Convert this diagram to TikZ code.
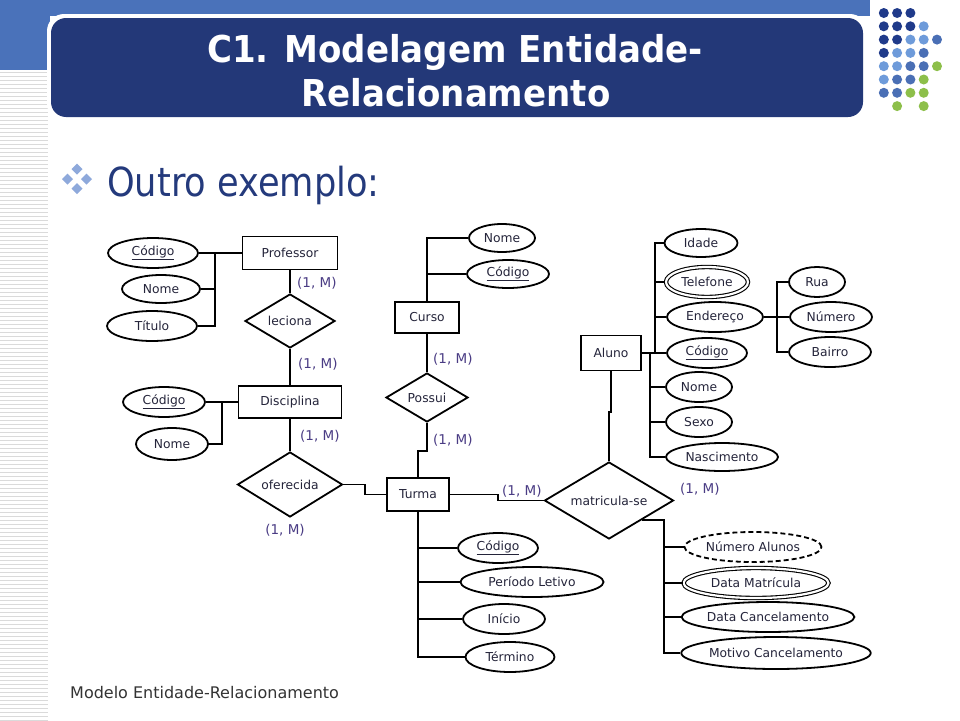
\documentclass[tikz,border=0pt]{standalone}
\usepackage{fontspec}
\setmainfont{DejaVu Sans}
\usetikzlibrary{shapes.geometric}
\definecolor{topblue}{HTML}{4A72BA}
\definecolor{navy}{HTML}{233878}
\definecolor{dotdark}{HTML}{1F3A8A}
\definecolor{dotlight}{HTML}{6E9BDA}
\definecolor{dotmid}{HTML}{4A6FB5}
\definecolor{dotgreen}{HTML}{8DBF4A}
\definecolor{subblue}{HTML}{243A7C}
\definecolor{bulletblue}{HTML}{8EA9DB}
\definecolor{lbl}{HTML}{4A3C84}
\definecolor{ertext}{HTML}{24243A}
\definecolor{footgray}{HTML}{333333}
\definecolor{stripegray}{HTML}{DADADA}
\newcommand\erfont{\fontsize{12.3}{14}\selectfont}
\newcommand\lblfont{\fontsize{13.5}{15}\selectfont}
\begin{document}
\begin{tikzpicture}[x=1pt,y=-1pt,
  ent/.style={draw, line width=1.8pt, rectangle, inner sep=0, font=\erfont, text=ertext},
  attr/.style={draw, line width=1.8pt, ellipse, inner sep=0, font=\erfont, text=ertext},
  rel/.style={draw, line width=1.8pt, diamond, inner sep=0, font=\erfont, text=ertext},
  dbl/.style={double=white, double distance=2.2pt, line width=1.1pt},
  dsh/.style={dash pattern=on 5pt off 3pt},
  conn/.style={line width=1.9pt},
  lab/.style={font=\lblfont, text=lbl, inner sep=0},
  titletext/.style={font=\fontsize{37}{44}\bfseries\selectfont, text=white, inner sep=0}
]
\useasboundingbox (0,0) rectangle (960,720);
\fill[white] (0,0) rectangle (960,720);
% left stripes
\foreach \k in {0,...,162} \draw[stripegray, line width=1pt] (0,{72+4*\k}) -- (48,{72+4*\k});
% top band
\fill[topblue] (0,0) rectangle (870,16);
\fill[topblue] (0,0) rectangle (50,70);
% title box
\fill[white, rounded corners=17] (47,14) rectangle (867,121);
\fill[navy, rounded corners=15] (51,18) rectangle (863,117);
\node[titletext, anchor=base] (t1) at (455,62) {\scalebox{0.92}[1]{C1. Modelagem Entidade-}};
\node[titletext, anchor=base] (t2) at (456,106) {\scalebox{0.92}[1]{Relacionamento}};
% dots
\foreach \c/\r/\col in {1/1/dotdark,2/1/dotdark,3/1/dotdark,
  1/2/dotdark,2/2/dotdark,3/2/dotdark,4/2/dotlight,
  1/3/dotdark,2/3/dotdark,3/3/dotlight,4/3/dotlight,5/3/dotmid,
  1/4/dotdark,2/4/dotlight,3/4/dotlight,4/4/dotmid,
  1/5/dotlight,2/5/dotlight,3/5/dotmid,4/5/dotmid,5/5/dotgreen,
  1/6/dotlight,2/6/dotmid,3/6/dotmid,4/6/dotgreen,
  1/7/dotmid,2/7/dotmid,3/7/dotgreen,4/7/dotgreen,
  2/8/dotgreen,4/8/dotgreen}
  \fill[\col] ({870.5+13.3*\c},{-0.3+13.3*\r}) circle (5);
% subtitle bullet
\foreach \dx/\dy in {77/169,67.5/179,86.5/179,77/188.5}
  \fill[bulletblue] (\dx,\dy-5.5) -- (\dx+5.5,\dy) -- (\dx,\dy+5.5) -- (\dx-5.5,\dy) -- cycle;
\node[anchor=base west, text=subblue, font=\fontsize{40}{48}\selectfont, inner sep=0] (sub) at (107,196) {\scalebox{0.88}[1]{Outro exemplo:}};
% footer
\node[anchor=base west, text=footgray, font=\fontsize{16}{19}\selectfont, inner sep=0] (foot) at (70,698) {Modelo Entidade-Relacionamento};

% entities
\node[ent, minimum width=95, minimum height=33] (prof) at (290,253) {Professor};
\node[ent, minimum width=103, minimum height=32] (disc) at (290,402) {Disciplina};
\node[ent, minimum width=62, minimum height=33] (turma) at (418,494.5) {Turma};
\node[ent, minimum width=64, minimum height=31] (curso) at (427,317.5) {Curso};
\node[ent, minimum width=60, minimum height=35] (aluno) at (611,353) {Aluno};
% relationships
\node[rel, minimum width=90, minimum height=54, aspect=1.67] (lec) at (290,321) {leciona};
\node[rel, minimum width=105, minimum height=65, aspect=1.6] (ofe) at (290,484.5) {oferecida};
\node[rel, minimum width=82, minimum height=49, aspect=1.67] (pos) at (427,397.5) {Possui};
\node[rel, minimum width=129, minimum height=77, aspect=1.67] (mat) at (609,500.5) {matricula-se};
% attributes
\node[attr, minimum width=90, minimum height=30] (pcod) at (153,253) {\underline{Código}};
\node[attr, minimum width=78, minimum height=28] (pnome) at (161,289) {Nome};
\node[attr, minimum width=90, minimum height=30] (ptit) at (152,326) {Título};
\node[attr, minimum width=82, minimum height=30] (dcod) at (164,402) {\underline{Código}};
\node[attr, minimum width=72, minimum height=32] (dnome) at (172,444) {Nome};
\node[attr, minimum width=66, minimum height=28] (cnome) at (502,238) {Nome};
\node[attr, minimum width=82, minimum height=28] (ccod) at (508,274) {\underline{Código}};
\node[attr, minimum width=73, minimum height=28] (aidade) at (701,243) {Idade};
\node[attr, dbl, minimum width=82, minimum height=30] (atel) at (707,282) {Telefone};
\node[attr, minimum width=96, minimum height=30] (aend) at (715,317) {Endereço};
\node[attr, minimum width=80, minimum height=30] (acod) at (707,353) {\underline{Código}};
\node[attr, minimum width=66, minimum height=30] (anome) at (699,387) {Nome};
\node[attr, minimum width=66, minimum height=30] (asexo) at (699,422) {Sexo};
\node[attr, minimum width=112, minimum height=28] (anasc) at (722,457) {Nascimento};
\node[attr, minimum width=56, minimum height=30] (arua) at (817,282) {Rua};
\node[attr, minimum width=82, minimum height=30] (anum) at (831,317) {Número};
\node[attr, minimum width=82, minimum height=30] (abai) at (830,352) {Bairro};
\node[attr, minimum width=80, minimum height=30] (tcod) at (498,548) {\underline{Código}};
\node[attr, minimum width=143, minimum height=30] (tper) at (532,582) {Período Letivo};
\node[attr, minimum width=82, minimum height=30] (tini) at (504,619) {Início};
\node[attr, minimum width=89, minimum height=30] (tter) at (510,657) {Término};
\node[attr, dsh, minimum width=137, minimum height=30] (mnum) at (753,547) {Número Alunos};
\node[attr, dbl, minimum width=145, minimum height=30] (mdata) at (756,583) {Data Matrícula};
\node[attr, minimum width=170, minimum height=30] (mcan) at (768,617) {Data Cancelamento};
\node[attr, minimum width=185, minimum height=32] (mmot) at (776,653) {Motivo Cancelamento};

% connectors
\coordinate (pJ) at (215,253);
\draw[conn] (pcod.east) -- (prof.west);
\draw[conn] (pnome.east) -- (pnome.east -| pJ);
\draw[conn] (ptit.east) -| (pJ);
\draw[conn] (prof.south) -- (lec.north);
\draw[conn] (lec.south) -- (disc.north);
\coordinate (dJ) at (222,402);
\draw[conn] (dcod.east) -- (disc.west);
\draw[conn] (dnome.east) -| (dJ);
\draw[conn] (disc.south) -- (ofe.north);
\draw[conn] (ofe.east) -- ++(22,0) |- (turma.west);
\coordinate (cJ) at (427,238);
\draw[conn] (cnome.west) -- (cJ) -- (curso.north);
\draw[conn] (ccod.west) -- (ccod.west -| cJ);
\draw[conn] (curso.south) -- (pos.north);
\draw[conn] (pos.south) -- ++(0,28) -| (turma.north);
\draw[conn] (turma.east) -- ++(48,0) |- (mat.west);
\draw[conn] (aluno.south) -- ++(0,41) -| (mat.north);
\coordinate (aA) at (655,353);
\coordinate (aB) at (650,353);
\draw[conn] (aluno.east) -- (acod.west);
\draw[conn] (aidade.west) -| (aA);
\draw[conn] (atel.west) -- (atel.west -| aA);
\draw[conn] (aend.west) -- (aend.west -| aA);
\draw[conn] (anasc.west) -| (aB);
\draw[conn] (anome.west) -- (anome.west -| aB);
\draw[conn] (asexo.west) -- (asexo.west -| aB);
\coordinate (eJ) at (777,317);
\draw[conn] (aend.east) -- (anum.west);
\draw[conn] (arua.west) -| (eJ);
\draw[conn] (abai.west) -| (eJ);
\draw[conn] (turma.south) |- (tter.west);
\draw[conn] (tcod.west) -- (tcod.west -| turma.south);
\draw[conn] (tper.west) -- (tper.west -| turma.south);
\draw[conn] (tini.west) -- (tini.west -| turma.south);
\draw[conn] (mat.south east) -- ++(22,0) coordinate (mJ) |- (mmot.west);
\draw[conn] (mnum.west) -- (mnum.west -| mJ);
\draw[conn] (mdata.west) -- (mdata.west -| mJ);
\draw[conn] (mcan.west) -- (mcan.west -| mJ);
% cardinality labels
\node[lab, anchor=west] (L1) at (297,283) {(1, M)};
\node[lab, anchor=west] (L2) at (298,364) {(1, M)};
\node[lab, anchor=west] (L3) at (300,436) {(1, M)};
\node[lab] (L4) at (285,530) {(1, M)};
\node[lab, anchor=west] (L5) at (433,359) {(1, M)};
\node[lab, anchor=west] (L6) at (433,440) {(1, M)};
\node[lab, anchor=west] (L7) at (502,491) {(1, M)};
\node[lab, anchor=west] (L8) at (680,489) {(1, M)};
\end{tikzpicture}
\end{document}
